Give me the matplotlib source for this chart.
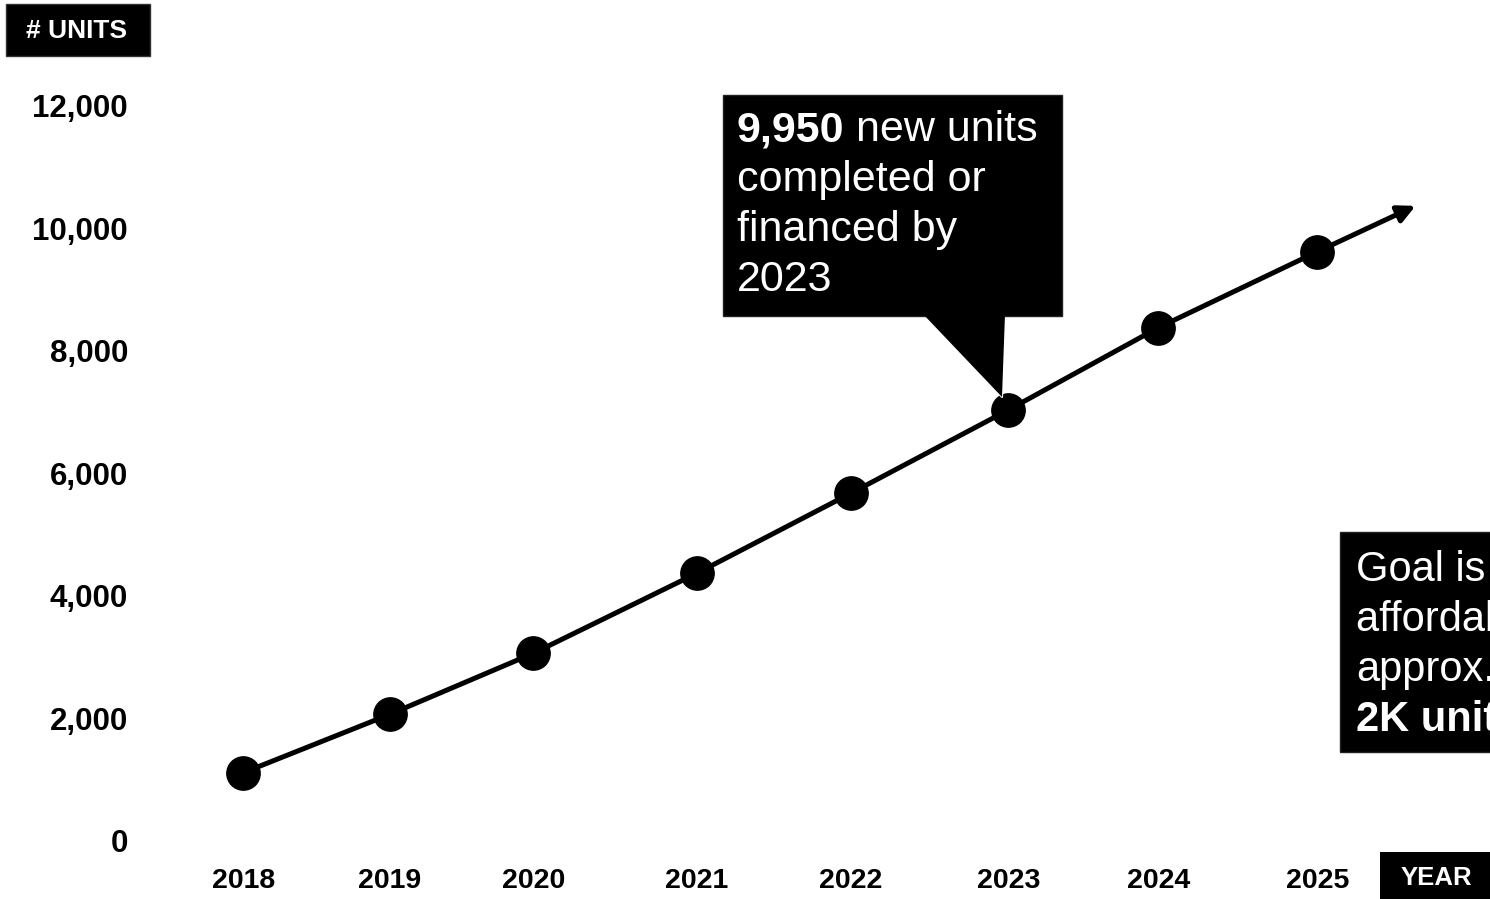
import matplotlib
matplotlib.use("Agg")
import matplotlib.pyplot as plt
from matplotlib.patches import Rectangle, Polygon
from matplotlib.lines import Line2D
from matplotlib.transforms import Affine2D

# ---------------- data ----------------
years = [2018, 2019, 2020, 2021, 2022, 2023, 2024, 2025]
# horizontal placement of each year as drawn in the source (fractional years)
year_pos = [2018.0, 2018.956, 2019.89, 2020.955, 2021.959, 2022.986, 2023.964, 2025.0]
units = [1115, 2069, 3064, 4370, 5676, 7037, 8381, 9621]
y_ticks = [0, 2000, 4000, 6000, 8000, 10000, 12000]
y_tick_labels = ["0", "2,000", "4,000", "6,000", "8,000", "10,000", "12,000"]
arrow_end_year = 2025.64
arrow_end_units = 10370
callout_bold = "9,950"
callout_rest = [" new units", "completed or", "financed by", "2023"]
goal_lines = ["Goal is 10,000 new", "affordable units,", "approx."]
goal_bold = "2K units per year"
y_title = "# UNITS"
x_title = "YEAR"

plt.rcParams['font.family'] = ['Liberation Sans', 'DejaVu Sans']

W, H = 1490, 899
fig = plt.figure(figsize=(W / 100, H / 100), dpi=100)
ax = fig.add_axes([0, 0, 1, 1])
px_per_year = 153.43
px_per_unit = 0.06125
x0 = 2018 - 243.3 / px_per_year
ax.set_xlim(x0, x0 + W / px_per_year)
ax.set_ylim(-(H - 841) / px_per_unit, 841 / px_per_unit)
ax.axis('off')

# pixel transform (origin top-left)
pix = Affine2D().scale(1 / W, -1 / H).translate(0, 1) + fig.transFigure

# line + markers
ax.plot(year_pos, units, color='black', lw=3.6, marker='o', ms=24,
        solid_capstyle='round', zorder=3)
ax.annotate('', xy=(arrow_end_year, arrow_end_units),
            xytext=(year_pos[-1], units[-1]),
            arrowprops=dict(arrowstyle='-|>', lw=3.6, color='black',
                            mutation_scale=26, shrinkA=0, shrinkB=0),
            zorder=3)

# y tick labels
for v, lab in zip(y_ticks, y_tick_labels):
    ax.text(x0 + 128 / px_per_year, v, lab, ha='right', va='center_baseline',
            fontsize=22.5, fontweight='bold', color='black')

# x tick labels
for xp, yr in zip(year_pos, years):
    ax.text(xp, -(881 - 841) / px_per_unit, str(yr), ha='center', va='center',
            fontsize=20.5, fontweight='bold', color='black')

# axis title boxes
fig.patches.append(Rectangle((6, 4), 144, 52, transform=pix, facecolor='black',
                             edgecolor='#333333', lw=1))
fig.text(77, 31, y_title, transform=pix, ha='center', va='center',
         fontsize=19, fontweight='bold', color='white')
fig.patches.append(Rectangle((1380, 852), 130, 60, transform=pix,
                             facecolor='black', edgecolor='none'))
fig.text(1436, 878, x_title, transform=pix, ha='center', va='center',
         fontsize=18.5, fontweight='bold', color='white')

# callout box with pointer
fig.patches.append(Rectangle((723, 95), 339, 221, transform=pix,
                             facecolor='black', edgecolor='#222222', lw=1, zorder=4))
fig.patches.append(Polygon([(923, 314), (1005, 314), (1002, 397)], closed=True,
                           transform=pix, facecolor='black', edgecolor='none', zorder=4))
fig.lines.append(Line2D([985, 1002, 1004], [378, 397, 370], transform=pix,
                        color='white', lw=1.5, zorder=4))

fs = 31
t1 = fig.text(737, 141, callout_bold, transform=pix, ha='left', va='baseline',
              fontsize=fs, fontweight='bold', color='white', zorder=5)
fig.canvas.draw()
bb = t1.get_window_extent(fig.canvas.get_renderer())
fig.text(bb.x1, 141, callout_rest[0], transform=pix, ha='left', va='baseline',
         fontsize=fs, color='white', zorder=5)
for i, line in enumerate(callout_rest[1:]):
    fig.text(737, 191 + 50 * i, line, transform=pix, ha='left', va='baseline',
             fontsize=fs, color='white', zorder=5)

# goal box
gfs = 30
fig.patches.append(Rectangle((1340, 532), 200, 220, transform=pix,
                             facecolor='black', edgecolor='#222222', lw=1, zorder=4))
for i, line in enumerate(goal_lines):
    fig.text(1356, 580 + 50.5 * i, line, transform=pix, ha='left', va='baseline',
             fontsize=gfs, color='white', zorder=5)
fig.text(1356, 580 + 50.5 * 3, goal_bold, transform=pix, ha='left', va='baseline',
         fontsize=gfs, fontweight='bold', color='white', zorder=5)

fig.savefig("out.png", dpi=100, facecolor='white')
